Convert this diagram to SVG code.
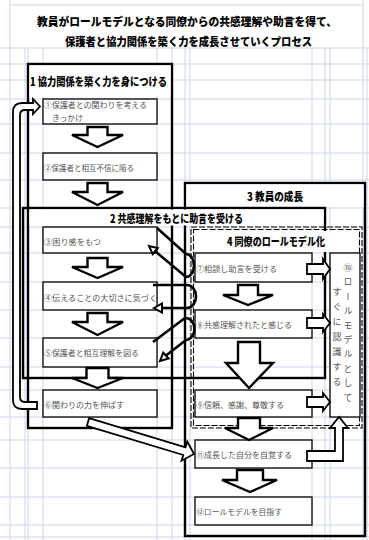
<svg xmlns="http://www.w3.org/2000/svg" width="369" height="540" viewBox="0 0 369 540">
<defs>
<style>
.grid line{stroke:#cdd5e5;stroke-width:1}
.cont{fill:none;stroke:#000;stroke-width:2.4}
.dash{fill:none;stroke:#000;stroke-width:1.1;stroke-dasharray:6 2}
.band{fill:#fff}
.hdr{font-family:'Noto Sans CJK JP','Noto Sans',sans-serif;font-weight:900;font-size:11px;fill:#000}
.title{font-family:'Noto Sans CJK JP','Noto Sans',sans-serif;font-weight:900;font-size:11.5px;fill:#000}
.nb{fill:#fff;stroke:#000;stroke-width:1.3}
.nt{font-family:'Noto Sans CJK JP','Noto Sans',sans-serif;font-size:8px;fill:#555}
.vt{font-family:'Noto Sans CJK JP','Noto Sans',sans-serif;font-size:9px;fill:#555;writing-mode:vertical-rl}
.blk{fill:#fff;stroke:#000;stroke-width:2.4;stroke-linejoin:miter}
.sm{fill:#fff;stroke:#000;stroke-width:1.8;stroke-linejoin:miter}
.cl{fill:none;stroke:#000;stroke-width:2.6}
.ah{fill:#fff;stroke:#000;stroke-width:2}
</style>
</defs>
<rect width="369" height="540" fill="#fff"/>
<g class="grid">
<line x1="10" y1="0" x2="10" y2="540"/>
<line x1="363" y1="0" x2="363" y2="540"/>
<line x1="10" y1="5" x2="363" y2="5"/>
<line x1="25" y1="48" x2="25" y2="540"/>
<line x1="28" y1="48" x2="28" y2="540"/>
<line x1="43" y1="48" x2="43" y2="540"/>
<line x1="157" y1="48" x2="157" y2="540"/>
<line x1="172" y1="48" x2="172" y2="540"/>
<line x1="185" y1="48" x2="185" y2="540"/>
<line x1="190" y1="48" x2="190" y2="540"/>
<line x1="312" y1="48" x2="312" y2="540"/>
<line x1="325" y1="48" x2="325" y2="540"/>
<line x1="330" y1="48" x2="330" y2="540"/>
<line x1="367" y1="48" x2="367" y2="540"/>
<line x1="0" y1="48" x2="369" y2="48"/>
<line x1="0" y1="64" x2="369" y2="64"/>
<line x1="0" y1="80" x2="369" y2="80"/>
<line x1="0" y1="99" x2="369" y2="99"/>
<line x1="0" y1="124" x2="369" y2="124"/>
<line x1="0" y1="153" x2="369" y2="153"/>
<line x1="0" y1="180" x2="369" y2="180"/>
<line x1="0" y1="208" x2="369" y2="208"/>
<line x1="0" y1="227" x2="369" y2="227"/>
<line x1="0" y1="253" x2="369" y2="253"/>
<line x1="0" y1="282" x2="369" y2="282"/>
<line x1="0" y1="310" x2="369" y2="310"/>
<line x1="0" y1="338" x2="369" y2="338"/>
<line x1="0" y1="367" x2="369" y2="367"/>
<line x1="0" y1="390" x2="369" y2="390"/>
<line x1="0" y1="417" x2="369" y2="417"/>
<line x1="0" y1="440" x2="369" y2="440"/>
<line x1="0" y1="468" x2="369" y2="468"/>
<line x1="0" y1="497" x2="369" y2="497"/>
<line x1="0" y1="525" x2="369" y2="525"/>
<line x1="0" y1="537" x2="369" y2="537"/>
</g>
<g id="title">
<text class="title" x="37" y="26" textLength="300" lengthAdjust="spacingAndGlyphs">教員がロールモデルとなる同僚からの共感理解や助言を得て、</text>
<text class="title" x="65" y="46" textLength="247" lengthAdjust="spacingAndGlyphs">保護者と協力関係を築く力を成長させていくプロセス</text>
</g>
<g id="group1">
<rect class="cont" x="28" y="64" width="144" height="364"/>
<rect class="band" x="29.5" y="65.5" width="141" height="31"/>
<text class="hdr" x="30" y="85.5" textLength="137" lengthAdjust="spacingAndGlyphs">1 協力関係を築く力を身につける</text>
</g>
<g id="group3">
<rect class="cont" x="185" y="183" width="180" height="353"/>
<rect class="band" x="186.5" y="184.5" width="177" height="22.5"/>
<text class="hdr" x="247" y="201" textLength="56" lengthAdjust="spacingAndGlyphs">3 教員の成長</text>
</g>
<g id="group2">
<rect class="cont" x="23" y="208" width="302" height="170"/>
<rect class="band" x="29.5" y="209.5" width="294" height="16"/>
<text class="hdr" x="110" y="222.5" textLength="133" lengthAdjust="spacingAndGlyphs">2 共感理解をもとに助言を受ける</text>
</g>
<g id="group4">
<rect class="dash" x="191" y="227" width="171" height="201"/>
<rect class="dash" x="193.5" y="229.5" width="166" height="196"/>
<rect class="band" x="195" y="231" width="163" height="21"/>
<text class="hdr" x="227" y="246" textLength="98" lengthAdjust="spacingAndGlyphs">4 同僚のロールモデル化</text>
</g>
<g id="n1"><rect class="nb" x="43" y="99" width="114" height="25"/>
<text class="nt" x="44" y="108" textLength="103" lengthAdjust="spacingAndGlyphs">①保護者との関わりを考える</text>
<text class="nt" x="52" y="121" textLength="31" lengthAdjust="spacingAndGlyphs">きっかけ</text></g>
<g id="n2"><rect class="nb" x="43" y="153" width="114" height="27"/>
<text class="nt" x="44" y="171" textLength="90" lengthAdjust="spacingAndGlyphs">②保護者と相互不信に陥る</text></g>
<g id="n3"><rect class="nb" x="43" y="227" width="114" height="26"/>
<text class="nt" x="44" y="245" textLength="57" lengthAdjust="spacingAndGlyphs">③困り感をもつ</text></g>
<g id="n4"><rect class="nb" x="43" y="282" width="114" height="28"/>
<text class="nt" x="44" y="301" textLength="113" lengthAdjust="spacingAndGlyphs">④伝えることの大切さに気づく</text></g>
<g id="n5"><rect class="nb" x="43" y="338" width="114" height="29"/>
<text class="nt" x="44" y="356" textLength="95" lengthAdjust="spacingAndGlyphs">⑤保護者と相互理解を図る</text></g>
<g id="n6"><rect class="nb" x="43" y="390" width="114" height="27"/>
<text class="nt" x="44" y="408" textLength="80" lengthAdjust="spacingAndGlyphs">⑥関わりの力を伸ばす</text></g>
<g id="n7"><rect class="nb" x="195" y="253" width="117" height="29"/>
<text class="nt" x="196" y="272" textLength="81" lengthAdjust="spacingAndGlyphs">⑦相談し助言を受ける</text></g>
<g id="n8"><rect class="nb" x="195" y="310" width="117" height="28"/>
<text class="nt" x="196" y="328" textLength="96" lengthAdjust="spacingAndGlyphs">⑧共感理解されたと感じる</text></g>
<g id="n9"><rect class="nb" x="195" y="390" width="117" height="27"/>
<text class="nt" x="196" y="408" textLength="88" lengthAdjust="spacingAndGlyphs">⑨信頼、感謝、尊敬する</text></g>
<g id="n10"><rect class="nb" x="330" y="253" width="30" height="164"/>
<text class="vt" x="348" y="263" letter-spacing="5.4">⑩ロールモデルとして</text>
<text class="vt" x="337" y="287" letter-spacing="6">すぐに認識する</text></g>
<g id="n11"><rect class="nb" x="195" y="440" width="117" height="28"/>
<text class="nt" x="196" y="458" textLength="96" lengthAdjust="spacingAndGlyphs">⑪成長した自分を自覚する</text></g>
<g id="n12"><rect class="nb" x="195" y="497" width="117" height="28"/>
<text class="nt" x="196" y="515" textLength="86" lengthAdjust="spacingAndGlyphs">⑫ロールモデルを目指す</text></g>
<g id="connectors">
<polygon class="blk" points="87.5,127 107.5,127 107.5,135 123,135 97.5,147 72,135 87.5,135"/>
<polygon class="blk" points="87.5,183 107.5,183 107.5,192 123,192 97.5,205 72,192 87.5,192"/>
<polygon class="blk" points="87.5,258 107.5,258 107.5,267 123,267 97.5,278 72,267 87.5,267"/>
<polygon class="blk" points="87.5,313 107.5,313 107.5,322 123,322 97.5,335 72,322 87.5,322"/>
<polygon class="blk" points="86.5,368 108.5,368 108.5,378 123,378 97.5,388 72,378 86.5,378"/>
<polygon class="blk" points="238,285 258,285 258,295 273,295 248,305 223,295 238,295"/>
<polygon class="blk" points="238,342 260,342 260,363 273,363 249,388 226,363 238,363"/>
<polygon class="blk" points="238,418 260,418 260,428 273,428 249,440 225,428 238,428"/>
<polygon class="blk" points="237,470 263,470 263,480 277,480 250,492 222,480 237,480"/>
<polygon class="sm" points="307,264 323,264 323,259 330,269 323,279 323,274 307,274"/>
<polygon class="sm" points="307,318 323,318 323,314 330,323 323,332 323,328 307,328"/>
<polygon class="sm" points="307,397 323,397 323,393 330,402 323,411 323,407 307,407"/>
<path class="sm" d="M307,451 H335 V428 H330 L339,417 L348,428 H343 V461 H307 Z"/>
<polygon class="sm" points="89.1,418.2 185.5,447.3 187.3,441.5 194,454 181.5,460.7 183.3,455 86.9,425.8"/>
<path class="sm" d="M37,402 L25,402 Q20,402 20,397 L20,115 Q20,110 25,110 L33,110 L33,114 L40,106.5 L33,99 L33,103 L22,103 Q13,103 13,112 L13,400 Q13,409 22,409 L37,409 Z"/>
<path class="cl" d="M157,228 L186,254 A8,11.5 0 0 1 186,277 L155.5,251.5"/>
<polygon class="ah" points="149,246 157.7,248 152.7,254.2"/>
<path class="cl" d="M153,285 L187,285 A9,11.5 0 0 1 187,308 L162,308"/>
<polygon class="ah" points="154,308 162,303.5 162,312.5"/>
<path class="cl" d="M153,342 L185,318 A9,11 0 0 1 186,340 L166,355.5"/>
<polygon class="ah" points="160,361 168.6,358.5 163.2,352.7"/>
</g>
</svg>
